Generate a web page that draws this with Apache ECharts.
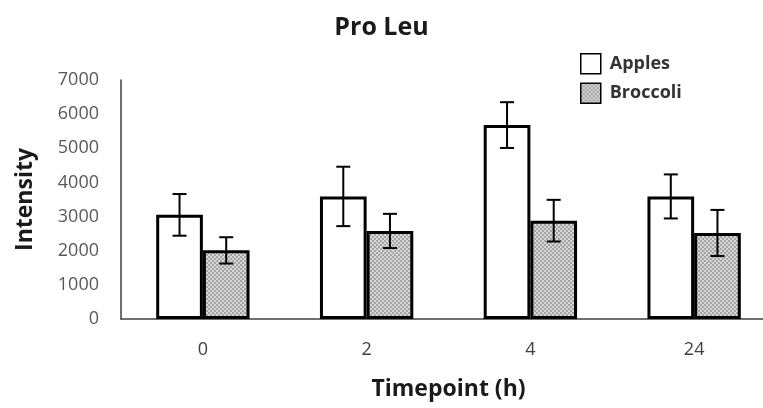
<!DOCTYPE html>
<html lang="en">
<head>
<meta charset="UTF-8">
<title>Pro Leu</title>
<script src="https://cdn.jsdelivr.net/npm/echarts@6/dist/echarts.min.js"></script>
<style>
  html, body { margin: 0; padding: 0; background: #fff; }
</style>
</head>
<body>
<div id="main" style="width: 763px;height: 408px"></div>
<script>
const timepoints = ['0', '2', '4', '24']
const apples = [3050, 3590, 5680, 3590]
const applesErr = [610, 870, 670, 645]
const broccoli = [2010, 2580, 2880, 2520]
const broccoliErr = [385, 500, 610, 675]
const yTicks = [0, 1000, 2000, 3000, 4000, 5000, 6000, 7000]

const FONT = 'Open Sans'
const GAP = 0.43

// checkered grey fill like the original
function checker() {
  let c = document.createElement('canvas')
  c.width = 4; c.height = 4
  let ctx = c.getContext('2d')
  ctx.fillStyle = '#d6d6d6'
  ctx.fillRect(0, 0, 4, 4)
  ctx.fillStyle = '#a4a4a4'
  ctx.fillRect(0, 0, 2, 2)
  ctx.fillRect(2, 2, 2, 2)
  return c
}
const grey = { image: checker(), repeat: 'repeat' }

function errData(vals, errs) {
  return vals.map((v, i) => [i, v - errs[i], v + errs[i]])
}

// side: -1 left bar, +1 right bar
function errRender(side) {
  return function (params, api) {
    let band = api.size([1, 0])[0]
    let barW = band * (1 - GAP) / 2
    let x = api.coord([api.value(0), 0])[0] + side * barW / 2
    let lo = api.coord([api.value(0), api.value(1)])[1]
    let hi = api.coord([api.value(0), api.value(2)])[1]
    let cap = 7
    let st = { stroke: '#000', lineWidth: 2 }
    return {
      type: 'group',
      children: [
        { type: 'line', shape: { x1: x, y1: lo, x2: x, y2: hi }, style: st },
        { type: 'line', shape: { x1: x - cap, y1: hi, x2: x + cap, y2: hi }, style: st },
        { type: 'line', shape: { x1: x - cap, y1: lo, x2: x + cap, y2: lo }, style: st }
      ]
    }
  }
}

let chart = echarts.init(document.getElementById('main'))
chart.setOption({
  animation: false,
  textStyle: { fontFamily: FONT },
  title: {
    text: 'Pro Leu',
    left: 'center',
    top: 10,
    textStyle: { fontFamily: FONT, fontSize: 25, fontWeight: 'bold', color: '#1a1a1a' }
  },
  legend: {
    orient: 'vertical',
    left: 580,
    top: 53,
    padding: 0,
    itemWidth: 20,
    itemHeight: 20,
    itemGap: 8,
    icon: 'rect',
    data: ['Apples', 'Broccoli'],
    itemStyle: { borderColor: '#000', borderWidth: 1.5 },
    textStyle: { fontFamily: FONT, fontSize: 18, fontWeight: 'bold', color: '#333', padding: [0, 0, 0, 4] }
  },
  grid: { left: 121, top: 80, bottom: 89, width: 655, outerBoundsMode: 'none', containLabel: false },
  xAxis: {
    type: 'category',
    data: timepoints,
    name: 'Timepoint (h)',
    nameLocation: 'middle',
    nameGap: 59,
    nameTextStyle: { fontFamily: FONT, fontSize: 23, fontWeight: 'bold', color: '#1a1a1a' },
    axisLine: { lineStyle: { color: '#404040', width: 1.5 } },
    axisTick: { show: false },
    axisLabel: { fontSize: 18, color: '#404040', margin: 22 }
  },
  yAxis: {
    type: 'value',
    min: yTicks[0],
    max: yTicks[yTicks.length - 1],
    interval: yTicks[1] - yTicks[0],
    name: 'Intensity',
    nameLocation: 'middle',
    nameGap: 84,
    nameTextStyle: { fontFamily: FONT, fontSize: 23, fontWeight: 'bold', color: '#1a1a1a' },
    axisLine: { show: true, lineStyle: { color: '#404040', width: 1.5 } },
    axisTick: { show: false },
    splitLine: { show: false },
    axisLabel: { fontSize: 18, color: '#595959', margin: 22, formatter: v => String(v) }
  },
  series: [
    {
      name: 'Apples',
      type: 'bar',
      data: apples,
      barGap: '0%',
      barCategoryGap: (GAP * 100) + '%',
      itemStyle: { color: '#fff', borderColor: '#000', borderWidth: 3 }
    },
    {
      name: 'Broccoli',
      type: 'bar',
      data: broccoli,
      itemStyle: { color: grey, borderColor: '#000', borderWidth: 3 }
    },
    {
      type: 'custom',
      renderItem: errRender(-1),
      data: errData(apples, applesErr),
      z: 10
    },
    {
      type: 'custom',
      renderItem: errRender(1),
      data: errData(broccoli, broccoliErr),
      z: 10
    }
  ]
})
</script>
</body>
</html>
